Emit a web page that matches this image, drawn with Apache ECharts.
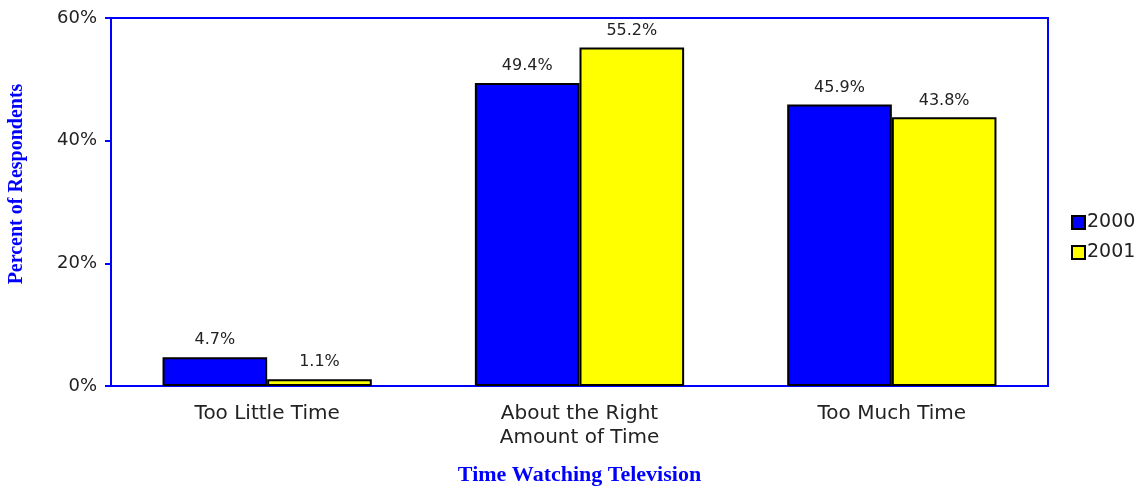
<!DOCTYPE html>
<html><head><meta charset="utf-8">
<script src="https://cdn.jsdelivr.net/npm/echarts@6/dist/echarts.min.js"></script>
<style>html,body{margin:0;padding:0;background:#fff}#c{width:1145px;height:487px}</style>
</head><body><div id="c"></div>
<script>
const categories = ['Too Little Time', 'About the Right\nAmount of Time', 'Too Much Time'];
const series2000 = [4.7, 49.4, 45.9];
const series2001 = [1.1, 55.2, 43.8];
const seriesNames = ['2000', '2001'];
const yTicks = [0, 20, 40, 60];

const chart = echarts.init(document.getElementById('c'));
const lbl = {
  show: true, position: 'top', distance: 9,
  fontFamily: 'DejaVu Sans', fontSize: 16, color: '#222',
  formatter: p => p.value.toFixed(1) + '%'
};
chart.setOption({
  animation: false,
  grid: { left: 111, right: 97, top: 18, bottom: 101, outerBoundsMode: 'none', containLabel: false,
          show: true, borderColor: '#0000ff', borderWidth: 2, backgroundColor: 'transparent' },
  legend: {
    orient: 'vertical', left: 1066, top: 208, itemWidth: 13, itemHeight: 13, itemGap: 11,
    textStyle: { fontFamily: 'DejaVu Sans', fontSize: 19, color: '#222', padding: [0, 0, 0, -3] },
    data: seriesNames.map(n => ({ name: n, icon: 'rect' }))
  },
  xAxis: {
    type: 'category', data: categories,
    axisLine: { lineStyle: { color: '#0000ff', width: 2 } },
    axisTick: { show: false },
    axisLabel: { fontFamily: 'DejaVu Sans', fontSize: 20, color: '#222', margin: 16, lineHeight: 24 },
    name: 'Time Watching Television', nameLocation: 'middle', nameGap: 78,
    nameTextStyle: { fontFamily: 'Liberation Serif', fontWeight: 'bold', fontSize: 22, color: '#0000ff' }
  },
  yAxis: {
    type: 'value', min: yTicks[0], max: yTicks[yTicks.length - 1], interval: 20,
    axisLine: { show: true, lineStyle: { color: '#0000ff', width: 2 } },
    axisTick: { show: true, length: 6, lineStyle: { color: '#0000ff', width: 2 } },
    splitLine: { show: false },
    axisLabel: { fontFamily: 'DejaVu Sans', fontSize: 18, color: '#222', margin: 14, formatter: v => v + '%' },
    name: 'Percent of Respondents', nameLocation: 'middle', nameGap: 84, nameRotate: 90,
    nameTextStyle: { fontFamily: 'Liberation Serif', fontWeight: 'bold', fontSize: 20, color: '#0000ff', padding: [0, 0, 0, 36] }
  },
  series: [
    { name: seriesNames[0], type: 'bar', data: series2000, barGap: '0%', barCategoryGap: '33%',
      itemStyle: { color: '#0000ff', borderColor: '#000', borderWidth: 2 }, label: lbl },
    { name: seriesNames[1], type: 'bar', data: series2001,
      itemStyle: { color: '#ffff00', borderColor: '#000', borderWidth: 2 }, label: lbl }
  ]
});
</script></body></html>
